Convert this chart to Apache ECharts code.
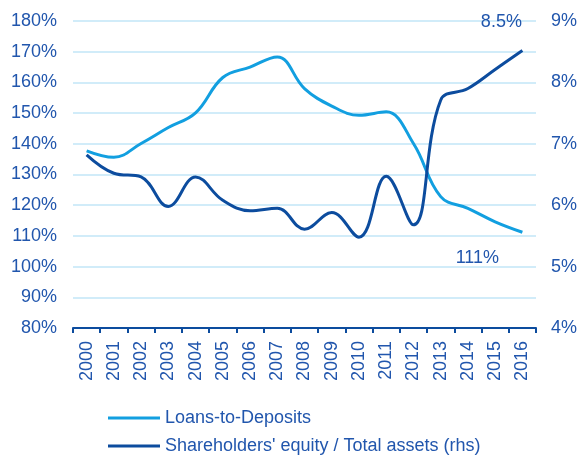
<!DOCTYPE html>
<html>
<head>
<meta charset="utf-8">
<script src="https://cdn.jsdelivr.net/npm/echarts@6/dist/echarts.min.js"></script>
<style>
  html, body { margin: 0; padding: 0; background: #fff; }
  #chart { width: 581px; height: 459px; }
</style>
</head>
<body>
<div id="chart"></div>
<script>
const years = ['2000', '2001', '2002', '2003', '2004', '2005', '2006', '2007', '2008',
  '2009', '2010', '2011', '2012', '2013', '2014', '2015', '2016']
// left axis, %
const loansToDeposits = [137.7, 135.6, 140.1, 145.3, 150.1, 161.6, 165, 168.3, 158,
  152.3, 149.3, 150.4, 140.1, 122.8, 119, 114.6, 111.2]
// right axis, %
const equityToAssets = [6.82, 6.52, 6.46, 5.98, 6.46, 6.08, 5.91, 5.95, 5.61,
  5.88, 5.48, 6.47, 5.68, 7.71, 7.9, 8.21, 8.52]

const ltdName = 'Loans-to-Deposits'
const eqName = "Shareholders' equity / Total assets (rhs)"

const lightBlue = '#129fe0'
const darkBlue = '#0c4c9e'
const textBlue = '#2156ad'
const font = 'Liberation Sans'

const chart = echarts.init(document.getElementById('chart'))

// last points get their callout text
const ltdData = loansToDeposits.map((v, i) => i === loansToDeposits.length - 1
  ? { value: v, label: { show: true, formatter: '111%', position: 'inside', offset: [-45, 26] } }
  : v)
const eqData = equityToAssets.map((v, i) => i === equityToAssets.length - 1
  ? { value: v, label: { show: true, formatter: '8.5%', position: 'inside', offset: [-21, -28] } }
  : v)

const calloutLabel = { color: textBlue, fontSize: 18, fontFamily: font }

const legendBase = {
  left: 103,
  itemWidth: 52,
  itemHeight: 3,
  itemGap: 10,
  icon: 'rect',
  textStyle: { color: textBlue, fontSize: 18, fontFamily: font }
}

const option = {
  animation: false,
  grid: { left: 73, right: 45, top: 21, bottom: 131 },
  legend: [
    Object.assign({ top: 404, data: [ltdName] }, legendBase),
    Object.assign({ top: 432, data: [eqName] }, legendBase)
  ],
  xAxis: {
    type: 'category',
    data: years,
    boundaryGap: true,
    axisLine: { lineStyle: { color: darkBlue, width: 2 } },
    axisTick: { show: true, length: 5, lineStyle: { color: darkBlue, width: 2 } },
    axisLabel: { rotate: 90, margin: 13, color: textBlue, fontSize: 18, fontFamily: font }
  },
  yAxis: [
    {
      type: 'value',
      min: 80,
      max: 180,
      interval: 10,
      axisLine: { show: false },
      axisTick: { show: false },
      splitLine: { lineStyle: { color: '#c2e6f7', width: 1.5 } },
      axisLabel: { formatter: '{value}%', margin: 16, color: textBlue, fontSize: 18, fontFamily: font }
    },
    {
      type: 'value',
      min: 4,
      max: 9,
      interval: 1,
      axisLine: { show: false },
      axisTick: { show: false },
      splitLine: { show: false },
      axisLabel: { formatter: '{value}%', margin: 15, color: textBlue, fontSize: 18, fontFamily: font }
    }
  ],
  series: [
    {
      name: ltdName,
      type: 'line',
      yAxisIndex: 0,
      data: ltdData,
      smooth: 0.4,
      symbol: 'circle',
      symbolSize: 0,
      showAllSymbol: true,
      itemStyle: { color: lightBlue },
      lineStyle: { color: lightBlue, width: 3 },
      label: calloutLabel
    },
    {
      name: eqName,
      type: 'line',
      yAxisIndex: 1,
      data: eqData,
      smooth: 0.4,
      symbol: 'circle',
      symbolSize: 0,
      showAllSymbol: true,
      itemStyle: { color: darkBlue },
      lineStyle: { color: darkBlue, width: 3 },
      label: calloutLabel
    }
  ]
}
chart.setOption(option)
</script>
</body>
</html>
